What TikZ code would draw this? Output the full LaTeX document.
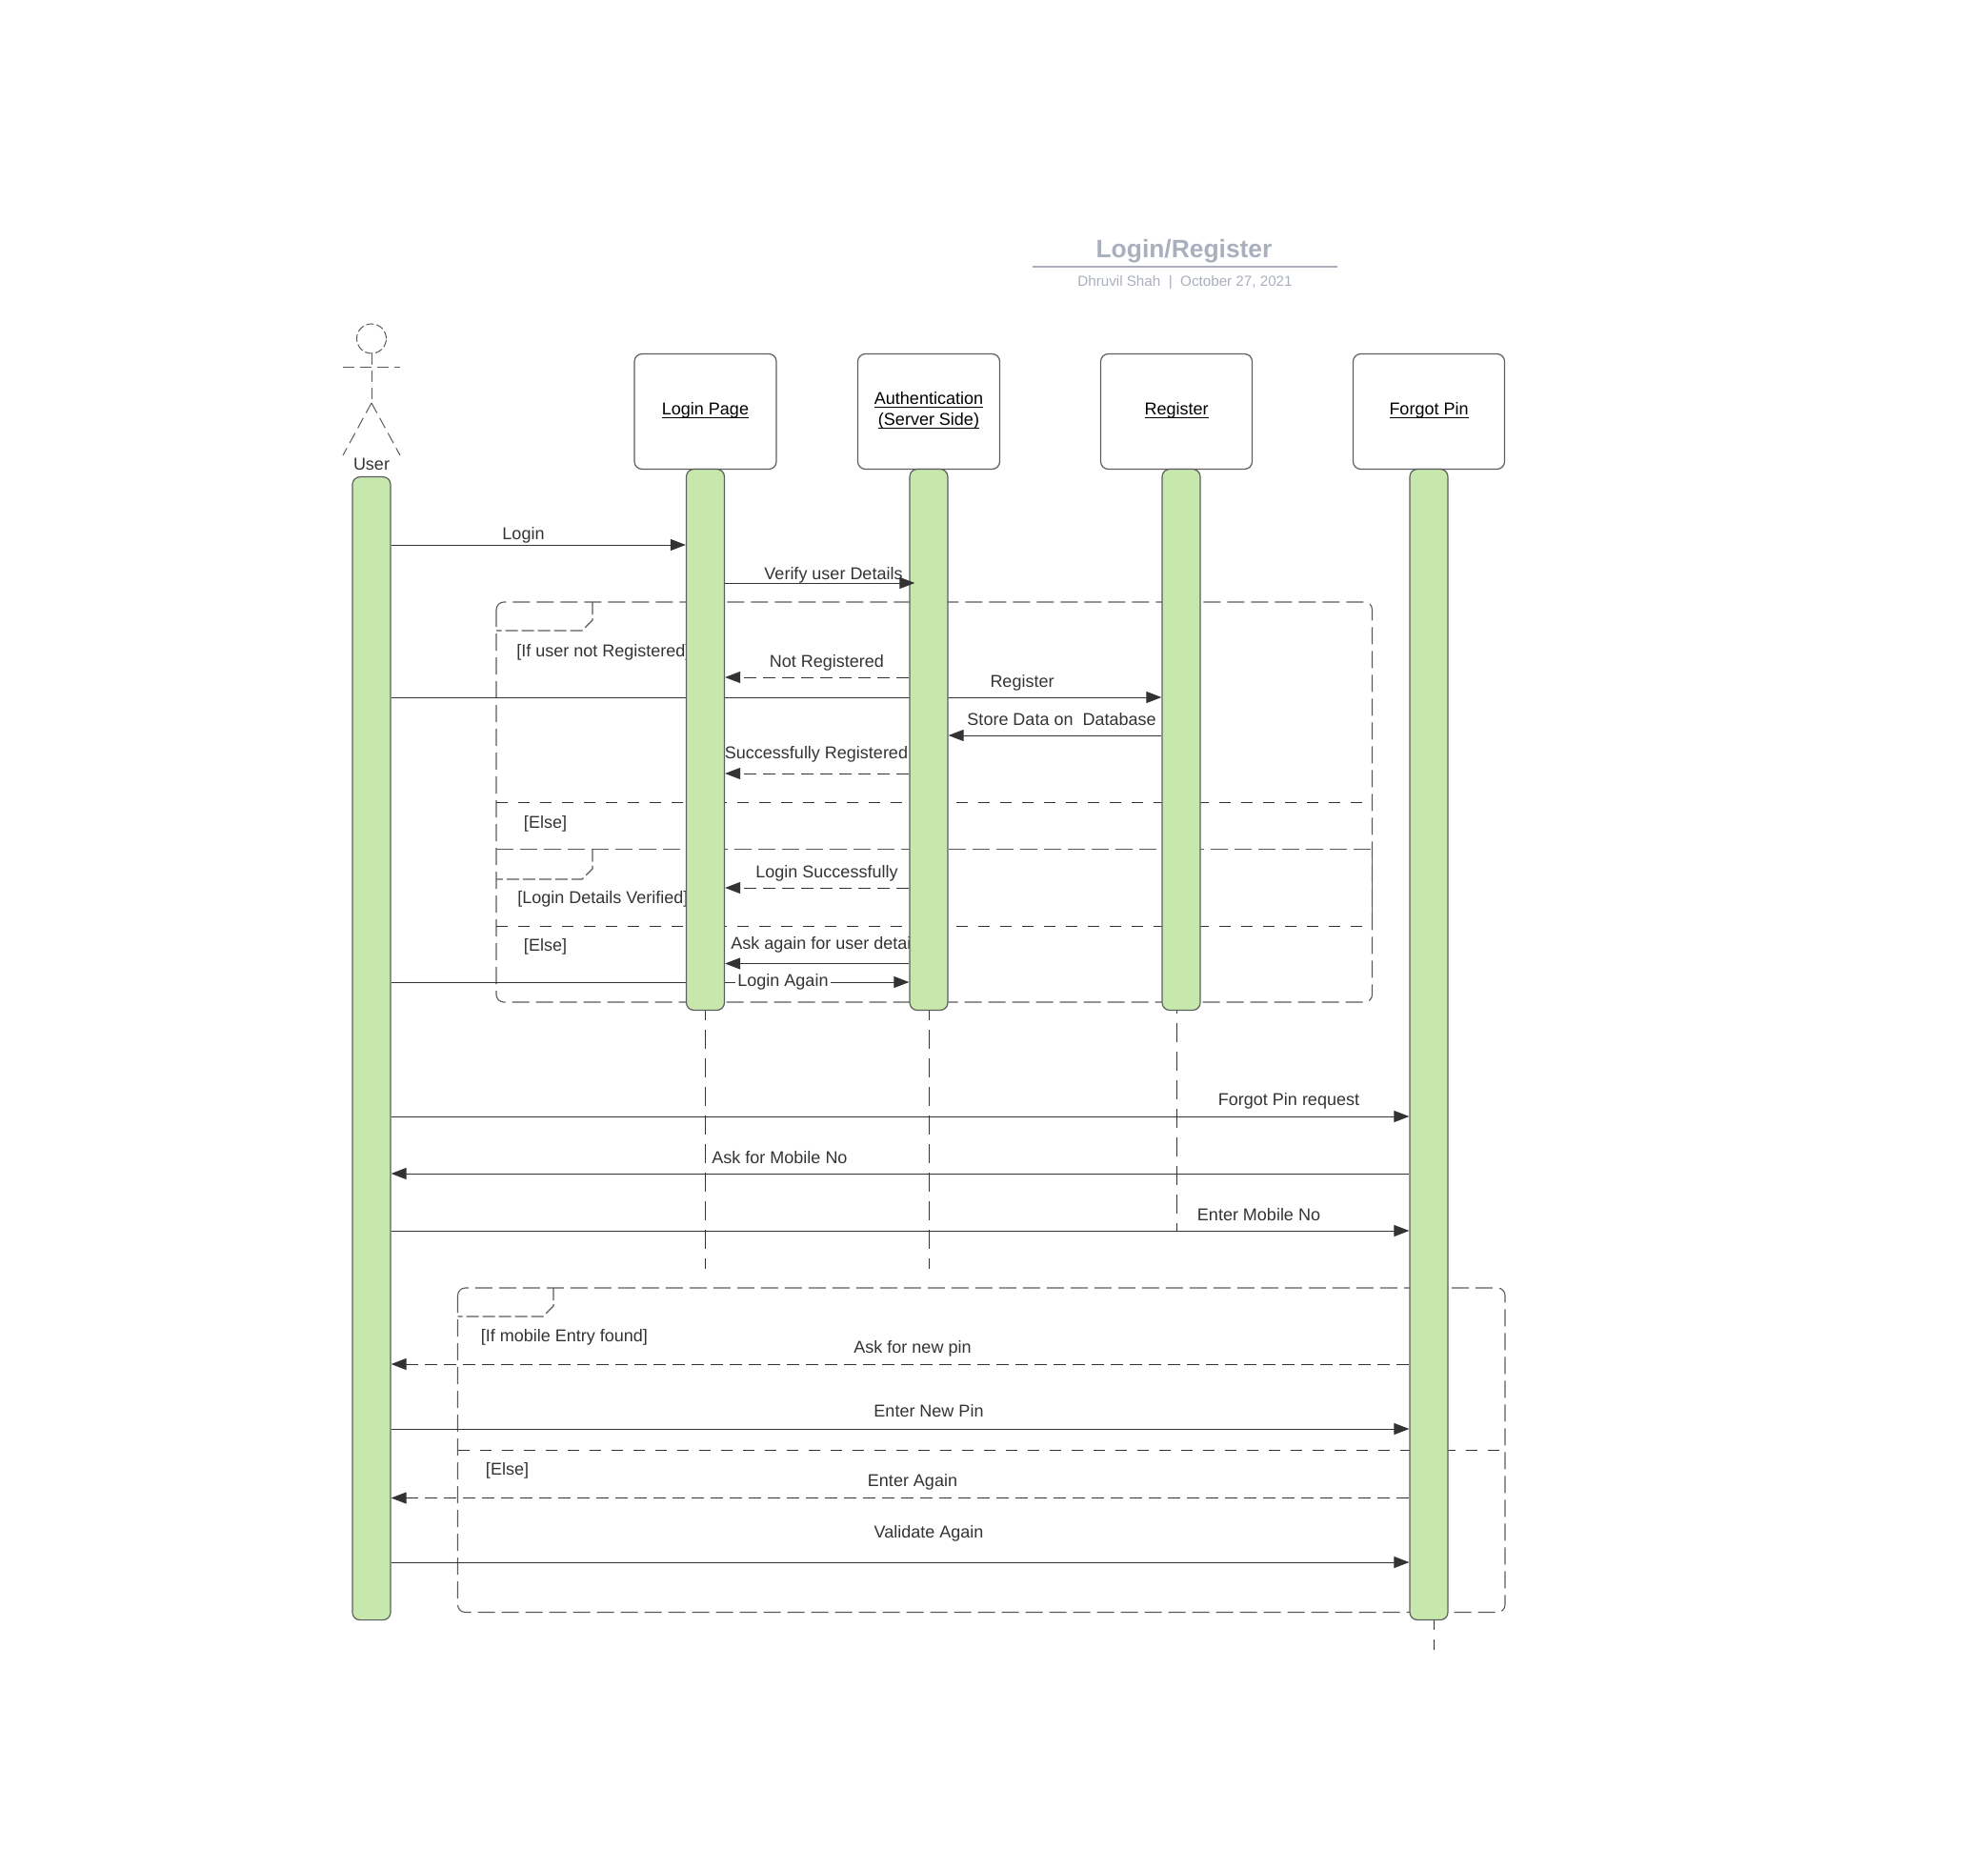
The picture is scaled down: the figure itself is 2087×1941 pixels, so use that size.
\documentclass[tikz,border=0pt]{standalone}
\usepackage{fontspec}
\setmainfont{Liberation Sans}
\usetikzlibrary{positioning,arrows.meta,backgrounds}
\definecolor{barfill}{HTML}{C7E8AC}
\definecolor{barline}{HTML}{5E5E5E}
\definecolor{msgline}{HTML}{333333}
\definecolor{frameline}{HTML}{5A5A5A}
\definecolor{titlegray}{HTML}{A9AFBC}
\newcommand{\headtext}[1]{\smash{\raisebox{-1.7pt}{\underline{\smash{#1}}}}}
\tikzset{
  lifebox/.style={draw=barline, fill=white, line width=0.6pt, rounded corners=4pt, minimum height=60.5pt, inner sep=0pt, align=center, text=black, font=\fontsize{9}{10.8}\selectfont},
  barbox/.style={draw=barline, fill=barfill, line width=0.6pt, rounded corners=4pt, minimum width=20pt, inner sep=0pt},
  msg/.style={draw=msgline, line width=0.5pt, -{Triangle[length=8pt,width=6pt]}},
  reply/.style={msg, dash pattern=on 6.5pt off 3.5pt},
  frame/.style={draw=frameline, line width=0.55pt, dash pattern=on 9pt off 3.5pt},
  fragtab/.style={draw=frameline, line width=0.55pt, dash pattern=on 6.5pt off 2pt},
  divider/.style={draw=msgline, line width=0.45pt, dash pattern=on 6pt off 5.5pt},
  lifeline/.style={draw=msgline, line width=0.5pt, dash pattern=on 10pt off 5pt, dash phase=5pt},
  actor/.style={draw=frameline, line width=0.5pt, dash pattern=on 6pt off 3pt},
  label/.style={text=msgline, inner sep=0pt, font=\fontsize{9}{10.8}\selectfont}
}
\begin{document}
\begin{tikzpicture}[x=0.5pt, y=-0.5pt]
\useasboundingbox (0,0) rectangle (2087,1941);

% Title
\node[text=titlegray, inner sep=0pt, font=\bfseries\fontsize{13.2}{15}\selectfont] (title) at (1243,264) {Login/Register};
\coordinate (ruleleft) at (1084,280);
\coordinate (ruleright) at (1404,280);
\draw[titlegray, line width=0.8pt] (ruleleft) -- (ruleright);
\node[text=titlegray, inner sep=0pt, font=\fontsize{7.6}{9}\selectfont] (subtitle) at (1244,297) {Dhruvil Shah\ \ |\ \ October 27, 2021};

% Actor
\node[actor, dash pattern=on 4pt off 1.5pt, circle, minimum size=15.5pt, inner sep=0pt] (userhead) at (390,355.5) {};
\coordinate (armleft) at (360,386);
\coordinate (armright) at (420,386);
\coordinate (hip) at (390,423);
\coordinate (footleft) at (360,478);
\coordinate (footright) at (420,478);
\draw[actor] (armleft) -- (armright);
\draw[actor] (userhead.south) -- (hip);
\draw[actor] (hip) -- (footleft);
\draw[actor] (hip) -- (footright);
\node[label] (userlabel) at (390,487) {User};

% Heads
\node[lifebox, minimum width=74.5pt] (loginbox) at (740.5,432) {\headtext{Login Page}};
\node[lifebox, minimum width=74.5pt] (authbox) at (975,432) {\headtext{Authentication}\\\headtext{(Server Side)}};
\node[lifebox, minimum width=79.5pt] (registerbox) at (1235,432) {\headtext{Register}};
\node[lifebox, minimum width=79.5pt] (forgotbox) at (1500,432) {\headtext{Forgot Pin}};

% Bars
\node[barbox, minimum height=600pt, anchor=north] (userbar) at (390,500) {};
\node[barbox, minimum height=284pt, below=-0.6pt of loginbox] (loginbar) {};
\node[barbox, minimum height=284pt, below=-0.6pt of authbox] (authbar) {};
\node[barbox, minimum height=284pt, below=-0.6pt of registerbox, xshift=2.5pt] (registerbar) {};
\node[barbox, minimum height=604pt, below=-0.6pt of forgotbox] (forgotbar) {};

\begin{scope}[on background layer]
% Lifelines
\coordinate (loginend) at (740.5,1332);
\coordinate (authend) at (975,1332);
\coordinate (registerend) at (1235,1292);
\coordinate (forgotend) at (1505.5,1732);
\draw[lifeline] (loginbar.south) -- (loginend);
\draw[lifeline] (authbar.south) -- (authend);
\draw[lifeline, dash phase=8.5pt] (registerbox.south |- registerbar.south) -- (registerend);
\draw[lifeline] (forgotend |- forgotbar.south) -- (forgotend);

% Frame 1
\draw[frame, rounded corners=4pt] (521,632) rectangle (1440.5,1052);
\draw[fragtab] (622,632) -- (622,651) -- (611,662) -- (521,662);
\draw[divider] (521,842.5) -- (1440.5,842.5);
\draw[frame] (521,891.6) -- (1440.5,891.6) -- (1440.5,972);
\draw[fragtab] (622,891.6) -- (622,912) -- (611,923) -- (521,923);
\draw[divider] (521,972) -- (1440.5,972);

% Frame 2
\draw[frame, rounded corners=4pt] (480.5,1352) rectangle (1580,1692.5);
\draw[fragtab] (581,1352) -- (581,1371) -- (570,1382) -- (480.5,1382);
\draw[divider] (480.5,1522) -- (1580,1522);

% Under the bars
\node[label, anchor=west] (askagain) at (767,992) {Ask again for user details};
\node[label, anchor=west] (ifnot) at (542,684.5) {[If user not Registered]};
\node[label, anchor=west] (verified) at (543,944) {[Login Details Verified]};
\draw[msg] (userbar.east |- 0,732) -- (registerbar.west |- 0,732);
\draw[msg] (userbar.east |- 0,1031) -- (authbar.west |- 0,1031);
\end{scope}

% Login part
\draw[msg] (userbar.east |- 0,572) -- (loginbar.west |- 0,572);
\node[label] (loginmsg) at (549.5,561.5) {Login};
\draw[msg] (loginbar.east |- 0,612) -- ([xshift=3pt]authbar.west |- 0,612);
\node[label] (verifymsg) at (875,604) {Verify user Details};
\draw[reply] (authbar.west |- 0,711) -- (loginbar.east |- 0,711);
\node[label] (notreg) at (868,696) {Not Registered};
\node[label] (regmsg) at (1073,716.5) {Register};
\draw[msg] (registerbar.west |- 0,772) -- (authbar.east |- 0,772);
\node[label, anchor=east] (storemsg) at (1214,755) {Store Data on\ \ Database};
\draw[reply] (authbar.west |- 0,812) -- (loginbar.east |- 0,812);
\node[label] (successmsg) at (857,792) {Successfully Registered};
\node[label] (else1) at (572.5,864.5) {[Else]};
\draw[reply] (authbar.west |- 0,932) -- (loginbar.east |- 0,932);
\node[label] (loginok) at (868,917) {Login Successfully};
\node[label] (else2) at (572.5,993.5) {[Else]};
\draw[msg] (authbar.west |- 0,1011.5) -- (loginbar.east |- 0,1011.5);
\node[label, fill=white, inner xsep=1pt] (againmsg) at (822,1031) {Login Again};

% Forgot part
\draw[msg] (userbar.east |- 0,1172) -- (forgotbar.west |- 0,1172);
\node[label] (forgotmsg) at (1353,1156) {Forgot Pin request};
\draw[msg] (forgotbar.west |- 0,1232) -- (userbar.east |- 0,1232);
\node[label] (askmobile) at (818.5,1215) {Ask for Mobile No};
\draw[msg] (userbar.east |- 0,1292) -- (forgotbar.west |- 0,1292);
\node[label] (entermobile) at (1321.5,1275) {Enter Mobile No};

% Pin part
\node[label, anchor=west] (iffound) at (504.5,1403.5) {[If mobile Entry found]};
\draw[reply] (forgotbar.west |- 0,1432) -- (userbar.east |- 0,1432);
\node[label] (newpin) at (958,1415.5) {Ask for new pin};
\draw[msg] (userbar.east |- 0,1500) -- (forgotbar.west |- 0,1500);
\node[label] (enterpin) at (975,1481) {Enter New Pin};
\node[label] (else3) at (532.5,1543.5) {[Else]};
\draw[reply] (forgotbar.west |- 0,1572.5) -- (userbar.east |- 0,1572.5);
\node[label] (enteragain) at (958,1555.5) {Enter Again};
\draw[msg] (userbar.east |- 0,1640) -- (forgotbar.west |- 0,1640);
\node[label] (validate) at (975,1610) {Validate Again};
\end{tikzpicture}
\end{document}
